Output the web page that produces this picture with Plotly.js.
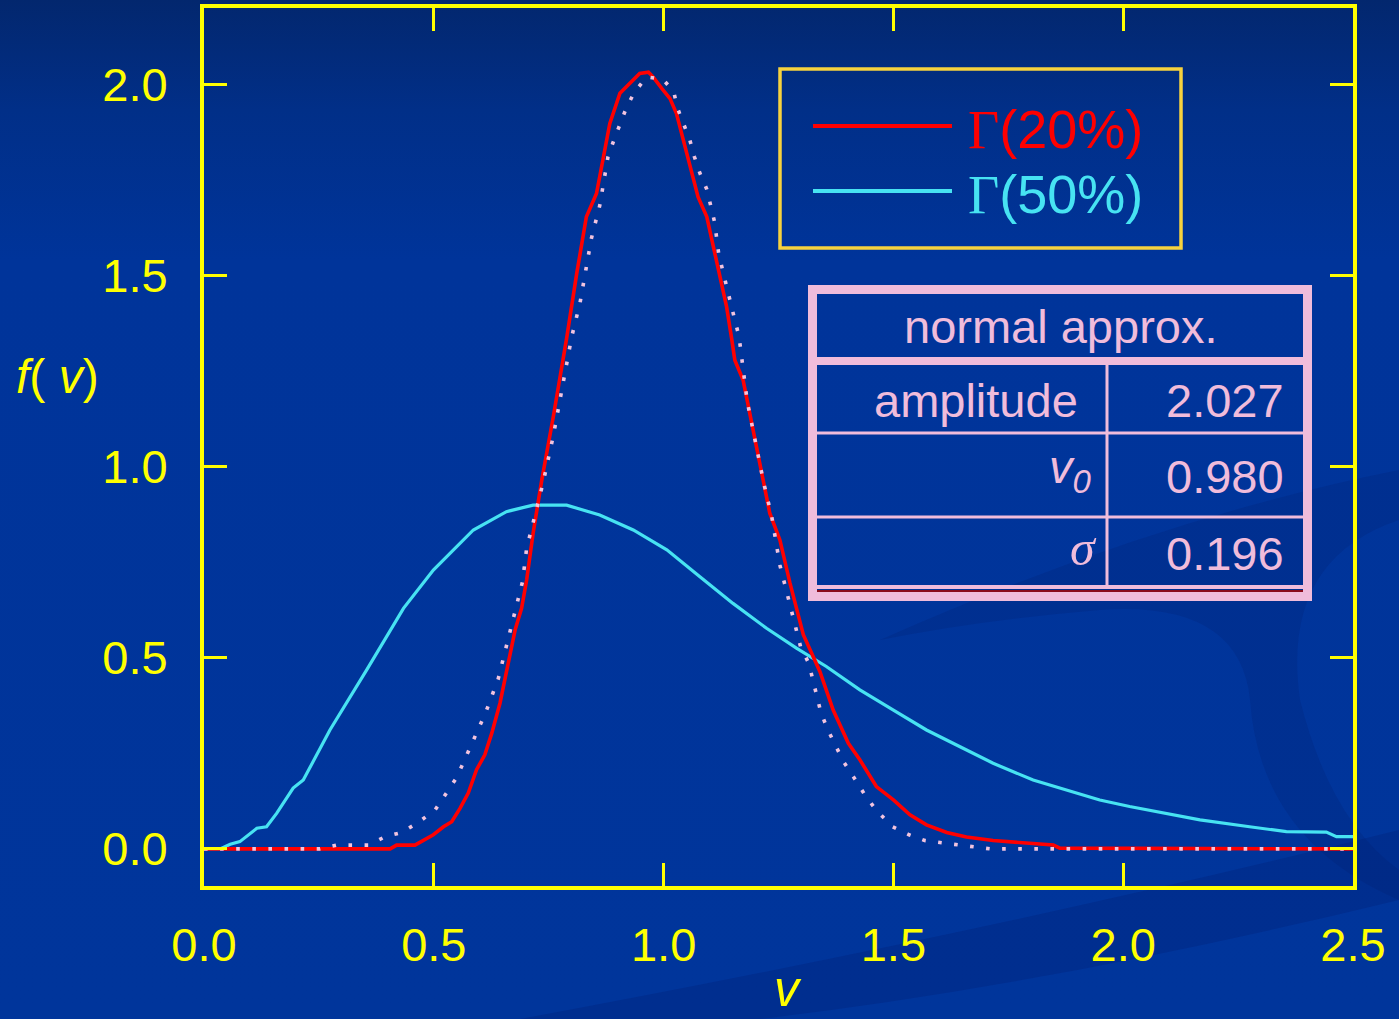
<!DOCTYPE html>
<html>
<head>
<meta charset="utf-8">
<script src="https://cdn.plot.ly/plotly-3.0.1.min.js"></script>
<style>
  html, body { margin: 0; padding: 0; width: 1399px; height: 1019px; overflow: hidden;
    background: linear-gradient(to bottom, #03276e 0px, #012f88 110px, #00349a 260px, #00359b 1019px); }
  #chart { width: 1399px; height: 1019px; }
</style>
</head>
<body>
<div id="chart"></div>
<script>
// ---- data ----
const gamma20_v = [0, 0.40, 0.405, 0.419, 0.459, 0.499, 0.521, 0.539, 0.557, 0.575, 0.593, 0.611, 0.626, 0.644, 0.666, 0.677, 0.691, 0.702, 0.716, 0.735, 0.76, 0.789, 0.811, 0.832, 0.854, 0.869, 0.883, 0.905, 0.919, 0.948, 0.967, 0.977, 0.996, 1.014, 1.028, 1.043, 1.064, 1.075, 1.094, 1.108, 1.122, 1.137, 1.148, 1.155, 1.173, 1.195, 1.209, 1.231, 1.253, 1.275, 1.304, 1.34, 1.369, 1.402, 1.427, 1.463, 1.5, 1.536, 1.572, 1.616, 1.659, 1.717, 1.848, 1.862, 2.5];
const gamma20_f = [0, 0, 0, 0.01, 0.01, 0.037, 0.058, 0.071, 0.106, 0.146, 0.207, 0.246, 0.302, 0.381, 0.512, 0.573, 0.629, 0.703, 0.825, 0.965, 1.13, 1.335, 1.505, 1.653, 1.714, 1.81, 1.897, 1.976, 1.993, 2.028, 2.031, 2.019, 1.989, 1.962, 1.923, 1.854, 1.758, 1.705, 1.653, 1.575, 1.496, 1.418, 1.335, 1.278, 1.226, 1.095, 1.008, 0.878, 0.808, 0.695, 0.56, 0.464, 0.363, 0.276, 0.233, 0.163, 0.128, 0.089, 0.063, 0.043, 0.031, 0.022, 0.01, 0.002, 0];

const gamma50_v = [0, 0.035, 0.057, 0.078, 0.115, 0.136, 0.158, 0.194, 0.216, 0.274, 0.354, 0.434, 0.499, 0.586, 0.658, 0.716, 0.789, 0.861, 0.934, 1.007, 1.079, 1.151, 1.224, 1.289, 1.354, 1.427, 1.5, 1.572, 1.645, 1.717, 1.804, 1.877, 1.949, 2.014, 2.094, 2.167, 2.275, 2.355, 2.442, 2.464, 2.5];
const gamma50_f = [0, 0, 0.012, 0.019, 0.054, 0.058, 0.093, 0.159, 0.18, 0.311, 0.468, 0.629, 0.729, 0.834, 0.882, 0.899, 0.899, 0.873, 0.834, 0.782, 0.712, 0.642, 0.577, 0.525, 0.477, 0.416, 0.363, 0.311, 0.267, 0.224, 0.18, 0.154, 0.128, 0.111, 0.093, 0.076, 0.058, 0.045, 0.044, 0.032, 0.032];

const normal_v = [0, 0.252, 0.289, 0.359, 0.394, 0.43, 0.466, 0.503, 0.55, 0.582, 0.613, 0.64, 0.657, 0.675, 0.693, 0.702, 0.72, 0.7375, 0.76, 0.78, 0.80, 0.818, 0.834, 0.843, 0.861, 0.879, 0.892, 0.906, 0.919, 0.937, 0.964, 0.999, 1.022, 1.03, 1.044, 1.057, 1.067, 1.079, 1.094, 1.102, 1.111, 1.12, 1.137, 1.155, 1.164, 1.182, 1.2, 1.218, 1.235, 1.253, 1.271, 1.28, 1.289, 1.298, 1.316, 1.324, 1.333, 1.342, 1.356, 1.373, 1.391, 1.414, 1.436, 1.462, 1.498, 1.534, 1.568, 1.605, 1.641, 1.711, 2.5];
const normal_f = [0, 0, 0.01, 0.01, 0.032, 0.043, 0.069, 0.102, 0.187, 0.272, 0.357, 0.444, 0.529, 0.614, 0.699, 0.786, 0.871, 0.956, 1.08, 1.205, 1.339, 1.427, 1.533, 1.597, 1.682, 1.81, 1.854, 1.895, 1.938, 1.98, 2.019, 2.012, 1.98, 1.938, 1.895, 1.854, 1.81, 1.767, 1.725, 1.682, 1.639, 1.555, 1.468, 1.383, 1.341, 1.17, 1.063, 0.956, 0.871, 0.742, 0.657, 0.614, 0.571, 0.529, 0.485, 0.443, 0.4, 0.358, 0.315, 0.272, 0.229, 0.187, 0.145, 0.102, 0.058, 0.037, 0.022, 0.016, 0.01, 0, 0];

const xTicks = [0, 0.5, 1.0, 1.5, 2.0, 2.5];
const xTickText = ['0.0', '0.5', '1.0', '1.5', '2.0', '2.5'];
const yTicks = [0, 0.5, 1.0, 1.5, 2.0];
const yTickText = ['0.0', '0.5', '1.0', '1.5', '2.0'];

const seriesNames = ['Γ(20%)', 'Γ(50%)', 'normal approx.'];
const tableRows = [['amplitude', '2.027'], ['<i>v</i><sub><i>0</i></sub>', '0.980'], ['σ', '0.196']];

// ---- layout helpers (pixel -> paper) ----
const W = 1399, H = 1019;
const L = 204, R = 1353, T = 8, B = 886;
const px = x => (x - L) / (R - L);
const py = y => (B - y) / (B - T);

const YEL = '#ffff00';
const GOLD = '#f7d23e';
const PINK = '#f0bcdb';
const SANS = 'Liberation Sans, Arial, sans-serif';
const SERIF = 'Liberation Serif, Times New Roman, serif';

const traces = [
  { x: gamma50_v, y: gamma50_f, name: seriesNames[1], mode: 'lines',
    line: { color: '#47e3f2', width: 3.2 } },
  { x: gamma20_v, y: gamma20_f, name: seriesNames[0], mode: 'lines',
    line: { color: '#ff0000', width: 3.6 } },
  { x: normal_v, y: normal_f, name: seriesNames[2], mode: 'lines',
    line: { color: '#f2c4df', width: 3.6, dash: '3.6px,12.5px' } }
];

const shapes = [];
const annotations = [];

// faint background swoosh of the slide template
const P = (x, y) => px(x).toFixed(4) + ',' + py(y).toFixed(4);
shapes.push({ type: 'path', xref: 'paper', yref: 'paper', layer: 'below',
  path: 'M' + P(520, 1019) + ' Q' + P(1000, 930) + ' ' + P(1399, 830) + ' L' + P(1399, 900) +
        ' Q' + P(1050, 985) + ' ' + P(760, 1019) + ' Z',
  fillcolor: 'rgba(0,25,100,0.22)', line: { width: 0 } });
shapes.push({ type: 'path', xref: 'paper', yref: 'paper', layer: 'below',
  path: 'M' + P(880, 640) + ' Q' + P(1150, 520) + ' ' + P(1399, 470) + ' L' + P(1399, 520) +
        ' Q' + P(1280, 560) + ' ' + P(1300, 700) + ' Q' + P(1330, 820) + ' ' + P(1399, 870) + ' L' + P(1399, 900) +
        ' Q' + P(1260, 840) + ' ' + P(1250, 700) + ' Q' + P(1240, 600) + ' ' + P(1100, 610) + ' Q' + P(980, 620) + ' ' + P(880, 640) + ' Z',
  fillcolor: 'rgba(0,25,100,0.18)', line: { width: 0 } });

// legend box
shapes.push({ type: 'rect', xref: 'paper', yref: 'paper', x0: px(780), x1: px(1181), y0: py(69), y1: py(248),
  line: { color: GOLD, width: 3.5 }, layer: 'above' });
shapes.push({ type: 'line', xref: 'paper', yref: 'paper', x0: px(813), x1: px(952), y0: py(126), y1: py(126),
  line: { color: '#ff0000', width: 4 }, layer: 'above' });
shapes.push({ type: 'line', xref: 'paper', yref: 'paper', x0: px(813), x1: px(952), y0: py(191), y1: py(191),
  line: { color: '#47e3f2', width: 4 }, layer: 'above' });
const legendText = (name, color, yc) => {
  const g = name.charAt(0), rest = name.slice(1);
  annotations.push({ xref: 'paper', yref: 'paper', x: px(966), y: py(yc), xanchor: 'left', yanchor: 'middle',
    showarrow: false, font: { family: SANS, size: 54, color: color },
    text: '<span style="font-family:Liberation Serif">' + g + '</span>' + rest });
};
legendText(seriesNames[0], '#ff0000', 129);
legendText(seriesNames[1], '#47e3f2', 194);

// table
const tl = (x0, y0, x1, y1, w, c) => shapes.push({ type: 'line', xref: 'paper', yref: 'paper',
  x0: px(x0), x1: px(x1), y0: py(y0), y1: py(y1), line: { color: c || PINK, width: w }, layer: 'above' });
shapes.push({ type: 'rect', xref: 'paper', yref: 'paper', x0: px(812.5), x1: px(1307.5), y0: py(289.5), y1: py(596.5),
  line: { color: PINK, width: 9 }, layer: 'above' });
tl(817, 361, 1303, 361, 8);
tl(817, 433, 1303, 433, 3);
tl(817, 517, 1303, 517, 3);
tl(817, 587, 1303, 587, 4);
tl(817, 591, 1303, 591, 2, '#8a0c1c');
tl(1107, 365, 1107, 587, 3);

annotations.push({ xref: 'paper', yref: 'paper', x: px(1061), y: py(326), xanchor: 'center', yanchor: 'middle',
  showarrow: false, font: { family: SANS, size: 47, color: PINK }, text: seriesNames[2] });
const rowY = [[400, 400], [470, 476], [548, 554]];
tableRows.forEach((r, i) => {
  const isSigma = r[0] === 'σ';
  annotations.push({ xref: 'paper', yref: 'paper', x: px(isSigma ? 1099 : (i === 1 ? 1094 : 1080)), y: py(rowY[i][0]),
    xanchor: 'right', yanchor: 'middle', showarrow: false,
    font: { family: isSigma ? SERIF : SANS, size: isSigma ? 50 : 47, color: PINK },
    text: isSigma ? '<i>' + r[0] + '</i>' : r[0] });
  annotations.push({ xref: 'paper', yref: 'paper', x: px(1286), y: py(rowY[i][1]),
    xanchor: 'right', yanchor: 'middle', showarrow: false,
    font: { family: SANS, size: 47, color: PINK }, text: r[1] });
});

// axis titles
annotations.push({ xref: 'paper', yref: 'paper', x: px(14), y: py(376), xanchor: 'left', yanchor: 'middle',
  showarrow: false, font: { family: SANS, size: 48, color: YEL }, text: '<i>f</i>( <i>v</i>)' });
annotations.push({ xref: 'paper', yref: 'paper', x: px(788), y: py(1018), xanchor: 'center', yanchor: 'bottom',
  showarrow: false, borderpad: 0, font: { family: SANS, size: 50, color: YEL }, text: '<i>v</i>' });

const axisCommon = {
  showline: true, linecolor: YEL, linewidth: 4, mirror: 'ticks',
  ticks: 'inside', ticklen: 23, tickwidth: 3, tickcolor: YEL,
  showgrid: false, zeroline: false,
  tickfont: { family: SANS, size: 47, color: YEL }
};

const layout = {
  width: W, height: H,
  margin: { l: L, r: W - R, t: T, b: H - B, pad: 0 },
  paper_bgcolor: 'rgba(0,0,0,0)', plot_bgcolor: 'rgba(0,0,0,0)',
  showlegend: false,
  xaxis: Object.assign({}, axisCommon, { range: [0, 2.5], tickvals: xTicks, ticktext: xTickText, ticklabelstandoff: 15 }),
  yaxis: Object.assign({}, axisCommon, { range: [-0.097, 2.199], tickvals: yTicks, ticktext: yTickText, ticklabelstandoff: 23 }),
  shapes: shapes, annotations: annotations
};

Plotly.newPlot('chart', traces, layout, { displayModeBar: false, staticPlot: true });
</script>
</body>
</html>
